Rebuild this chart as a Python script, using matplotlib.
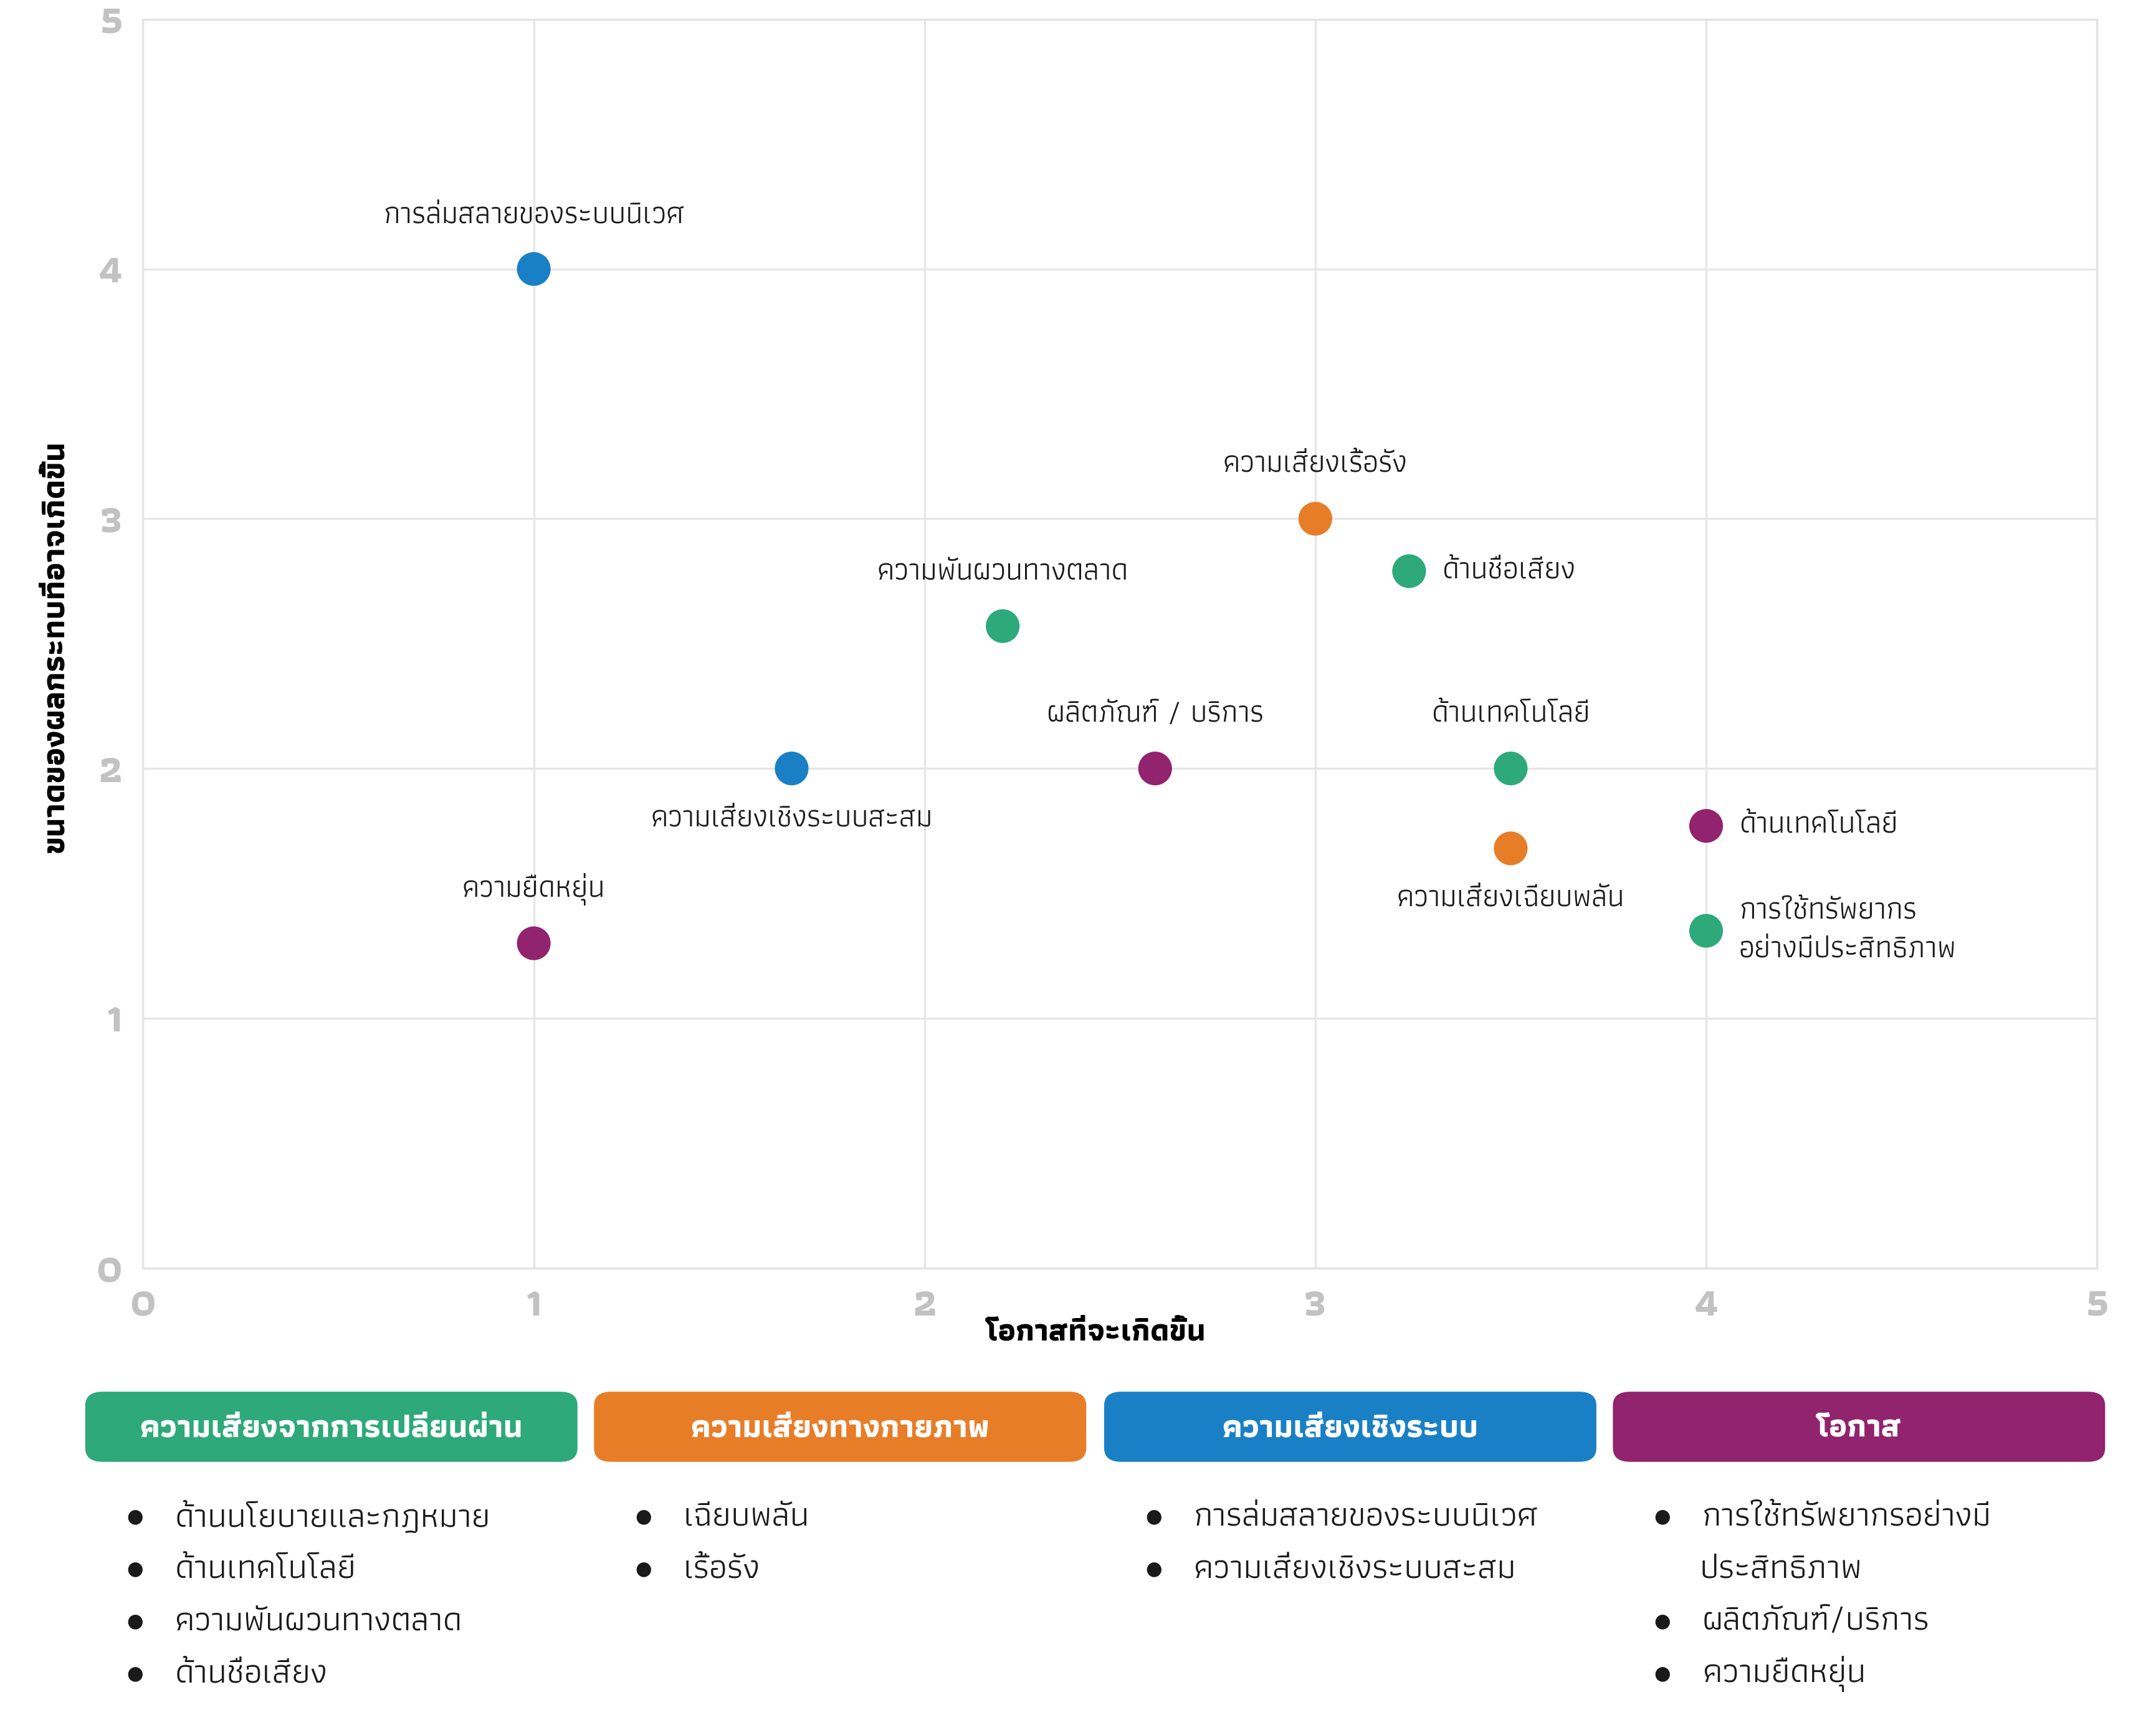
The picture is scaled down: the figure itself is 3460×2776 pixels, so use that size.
import matplotlib
matplotlib.use("Agg")
import matplotlib.pyplot as plt
from matplotlib.patches import FancyBboxPatch

plt.rcParams["font.family"] = ["Athiti", "DejaVu Sans"]

# colours of the four groups
group_names = ["ความเสี่ยงจากการเปลี่ยนผ่าน", "ความเสี่ยงทางกายภาพ", "ความเสี่ยงเชิงระบบ", "โอกาส"]
group_colors = ["#2EA97A", "#E87D28", "#1A80C6", "#92236E"]

# points on the chart
labels = ["การล่มสลายของระบบนิเวศ", "ความเสี่ยงเรื้อรัง", "ด้านชื่อเสียง", "ความพันผวนทางตลาด",
          "ความเสี่ยงเชิงระบบสะสม", "ผลิตภัณฑ์ / บริการ", "ด้านเทคโนโลยี", "ความเสี่ยงเฉียบพลัน",
          "ด้านเทคโนโลยี", "การใช้ทรัพยากร\nอย่างมีประสิทธิภาพ", "ความยืดหยุ่น"]
likelihood = [1, 3, 3.24, 2.2, 1.66, 2.59, 3.5, 3.5, 4, 4, 1]
impact = [4, 3, 2.79, 2.57, 2, 2, 2, 1.68, 1.77, 1.35, 1.3]
group = [2, 1, 0, 0, 2, 3, 0, 1, 3, 0, 3]
label_side = ["top", "top", "right", "top", "bottom", "top", "top", "bottom", "right", "right", "top"]

# lists under the coloured boxes
items = [
    ["ด้านนโยบายและกฎหมาย", "ด้านเทคโนโลยี", "ความพันผวนทางตลาด", "ด้านชื่อเสียง"],
    ["เฉียบพลัน", "เรื้อรัง"],
    ["การล่มสลายของระบบนิเวศ", "ความเสี่ยงเชิงระบบสะสม"],
    ["การใช้ทรัพยากรอย่างมี\nประสิทธิภาพ", "ผลิตภัณฑ์/บริการ", "ความยืดหยุ่น"],
]

W, H = 1568, 1258  # layout measured on the shrunk picture

fig = plt.figure(figsize=(17.3, 13.88), dpi=200)
ax = fig.add_axes([104 / W, 1 - 922 / H, (1525 - 104) / W, (922 - 14) / H])

ax.set_xlim(0, 5)
ax.set_ylim(0, 5)
ax.set_xticks(range(6))
ax.set_yticks(range(6))
ax.grid(True, color="#e6e6e6", linewidth=1.2)
ax.set_axisbelow(True)
for s in ax.spines.values():
    s.set_color("#e3e3e3")
    s.set_linewidth(1.2)
ax.tick_params(length=0, labelsize=23, labelcolor="#c2c2c2", pad=12)
for t in ax.get_xticklabels() + ax.get_yticklabels():
    t.set_fontweight("bold")

ax.set_xlabel("โอกาสที่จะเกิดขึ้น", fontsize=18, fontweight="bold", va="center")
ax.xaxis.set_label_coords(0.4877, -0.052)
ax.set_ylabel("ขนาดของผลกระทบที่อาจเกิดขึ้น", fontsize=18.5, fontweight="bold", va="center")
ax.yaxis.set_label_coords(-0.045, 0.498)

ax.scatter(likelihood, impact, s=380, c=[group_colors[g] for g in group], zorder=3, linewidths=0)

for lab, x, y, side in zip(labels, likelihood, impact, label_side):
    if side == "top":
        off, ha, va = (0, 31), "center", "center"
    elif side == "bottom":
        off, ha, va = (0, -29), "center", "center"
    else:
        off, ha, va = (19, 0), "left", "center"
    ax.annotate(lab, (x, y), xytext=off, textcoords="offset points", ha=ha, va=va,
                fontsize=17.5, color="#1a1a1a", linespacing=1.6)

# coloured header boxes and bullet lists
box_x = [(62, 420), (432, 790), (803, 1161), (1173, 1531)]
for i, (x0, x1) in enumerate(box_x):
    box = FancyBboxPatch((x0 / W, 1 - 1063 / H), (x1 - x0) / W, (1063 - 1012) / H,
                         boxstyle="round,pad=0,rounding_size=0.008",
                         transform=fig.transFigure, facecolor=group_colors[i],
                         edgecolor="none", mutation_aspect=W / H * 0.8)
    fig.patches.append(box)
    fig.text((x0 + x1) / 2 / W, 1 - 1039 / H, group_names[i], ha="center", va="center",
             color="white", fontsize=18.5, fontweight="bold")

    row = 0
    for it in items[i]:
        y = 1103 + row * 38
        fig.text((x0 + 36) / W, 1 - y / H, "●", ha="center", va="center", fontsize=11,
                 family=["DejaVu Sans"], color="#1a1a1a")
        lines = it.split("\n")
        fig.text((x0 + 65) / W, 1 - y / H, lines[0], ha="left", va="center",
                 fontsize=20, color="#1a1a1a")
        for extra in lines[1:]:
            row += 1
            fig.text((x0 + 63) / W, 1 - (1103 + row * 38) / H, extra, ha="left",
                     va="center", fontsize=20, color="#1a1a1a")
        row += 1

fig.savefig("out.png", dpi=200)
